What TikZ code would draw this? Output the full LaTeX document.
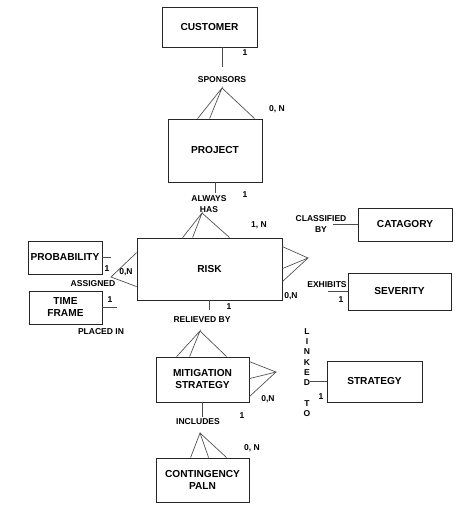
\documentclass[tikz,border=0pt]{standalone}
\usepackage{fontspec}
\setmainfont{Liberation Sans}
\usetikzlibrary{calc}

\tikzset{every picture/.style={line width=0.6pt}}
\tikzset{
  entity/.style={draw=black!85, inner sep=0pt, align=center, font=\fontsize{7.6}{9}\selectfont\bfseries},
  rel/.style={inner sep=0.75pt, align=center, font=\fontsize{6.4}{8.25}\selectfont\bfseries},
  card/.style={inner sep=0.75pt, font=\fontsize{6.4}{8}\selectfont\bfseries},
  link/.style={draw=black!70, line width=0.5pt}
}

\begin{document}
\begin{tikzpicture}[x=0.75pt,y=0.75pt,yscale=-1,xscale=1]
\useasboundingbox (0,0) rectangle (459,506);

% Entities
\node [entity, minimum width=95*0.75pt, minimum height=40*0.75pt] (customer) at (209.5,27) {CUSTOMER};
\node [entity, minimum width=94*0.75pt, minimum height=63*0.75pt] (project) at (215,150.5) {PROJECT};
\node [entity, minimum width=145*0.75pt, minimum height=62*0.75pt] (risk) at (209.5,269) {RISK};
\node [entity, minimum width=74*0.75pt, minimum height=33*0.75pt] (probability) at (65,257.5) {PROBABILITY};
\node [entity, minimum width=73*0.75pt, minimum height=33*0.75pt] (timeframe) at (65.5,307.5) {TIME\\FRAME};
\node [entity, minimum width=94*0.75pt, minimum height=33*0.75pt] (catagory) at (405,224.5) {CATAGORY};
\node [entity, minimum width=103*0.75pt, minimum height=37*0.75pt] (severity) at (399.5,291.5) {SEVERITY};
\node [entity, minimum width=93*0.75pt, minimum height=45*0.75pt] (mitigation) at (202.5,379.5) {MITIGATION\\STRATEGY};
\node [entity, minimum width=95*0.75pt, minimum height=41*0.75pt] (strategy) at (374.5,381.5) {STRATEGY};
\node [entity, minimum width=93*0.75pt, minimum height=44*0.75pt] (contingency) at (202.5,480) {CONTINGENCY\\PALN};

% Relationship labels
\node [rel] (sponsors) at (222,80) {SPONSORS};
\node [rel] (alwayshas) at (209,204.5) {ALWAYS\\HAS};
\node [rel] (classifiedby) at (321,224) {CLASSIFIED\\BY};
\node [rel] (exhibits) at (327,285) {EXHIBITS};
\node [rel] (assigned) at (93,284) {ASSIGNED};
\node [rel] (placedin) at (101,332) {PLACED IN};
\node [rel] (relievedby) at (202,320) {RELIEVED BY};
\node [rel, font=\fontsize{6.4}{7.75}\selectfont\bfseries] (linkedto) at (307,372.5) {L\\I\\N\\K\\E\\D\\~\\T\\O};
\node [rel] (includes) at (198,422) {INCLUDES};

% Crow's foot apexes
\coordinate (sponsorsfoot) at (222,88);
\coordinate (alwaysfoot) at (202,213);
\coordinate (assignedfoot) at (111,277);
\coordinate (exhibitsfoot) at (308,258);
\coordinate (relievedfoot) at (200,331);
\coordinate (linkedfoot) at (276,372);
\coordinate (includesfoot) at (200,433);

% Customer - Project
\draw [link] (customer.south -| sponsors) -- ++(0,20);
\draw [link] ($(project.north west)+(30,0)$) -- (sponsorsfoot) -- ($(project.north west)+(42,0)$);
\draw [link] (sponsorsfoot) -- ($(project.north west)+(87,0)$);

% Project - Risk
\draw [link] (project.south) -- ++(0,11);
\draw [link] ($(risk.north west)+(46,0)$) -- (alwaysfoot) -- ($(risk.north west)+(56,0)$);
\draw [link] (alwaysfoot) -- ($(risk.north west)+(93,0)$);

% Risk - Probability
\draw [link] (probability.east) -- ++(9,0);
\draw [link] ($(risk.north west)+(0,15)$) -- (assignedfoot) -- ($(risk.north west)+(0,49)$);

% Risk - Time frame
\draw [link] (timeframe.east) -- ++(15,0);

% Risk - Catagory
\draw [link] (catagory.west) -- ++(-25,0);

% Risk - Severity
\draw [link] ($(risk.north east)+(0,9)$) -- (exhibitsfoot) -- ($(risk.north east)+(0,31)$);
\draw [link] (exhibitsfoot) -- ($(risk.north east)+(0,44)$);
\draw [link] (severity.west) -- ++(-20,0);

% Risk - Mitigation strategy
\draw [link] (risk.south) -- ++(0,10);
\draw [link] ($(mitigation.north west)+(21,0)$) -- (relievedfoot) -- ($(mitigation.north west)+(34,0)$);
\draw [link] (relievedfoot) -- ($(mitigation.north west)+(71,0)$);

% Mitigation strategy - Strategy
\draw [link] ($(mitigation.north east)+(0,5)$) -- (linkedfoot) -- ($(mitigation.north east)+(0,22)$);
\draw [link] (linkedfoot) -- ($(mitigation.north east)+(0,40)$);
\draw [link] (strategy.west) -- ++(-17,0);

% Mitigation strategy - Contingency paln
\draw [link] (mitigation.south) -- ++(0,15);
\draw [link] ($(contingency.north west)+(35,0)$) -- (includesfoot) -- ($(contingency.north west)+(53,0)$);
\draw [link] (includesfoot) -- ($(contingency.north west)+(71,0)$);

% Cardinalities
\node [card] (c1) at (245,53) {1};
\node [card] (c2) at (277,109) {0, N};
\node [card] (c3) at (245,195) {1};
\node [card] (c4) at (259,225) {1, N};
\node [card] (c5) at (107,269) {1};
\node [card] (c6) at (126,272) {0,N};
\node [card] (c7) at (110,300) {1};
\node [card] (c8) at (291,296) {0,N};
\node [card] (c9) at (341,300) {1};
\node [card] (c10) at (229,307) {1};
\node [card] (c11) at (268,399) {0,N};
\node [card] (c12) at (321,397) {1};
\node [card] (c13) at (242,416) {1};
\node [card] (c14) at (252,448) {0, N};

\end{tikzpicture}
\end{document}
